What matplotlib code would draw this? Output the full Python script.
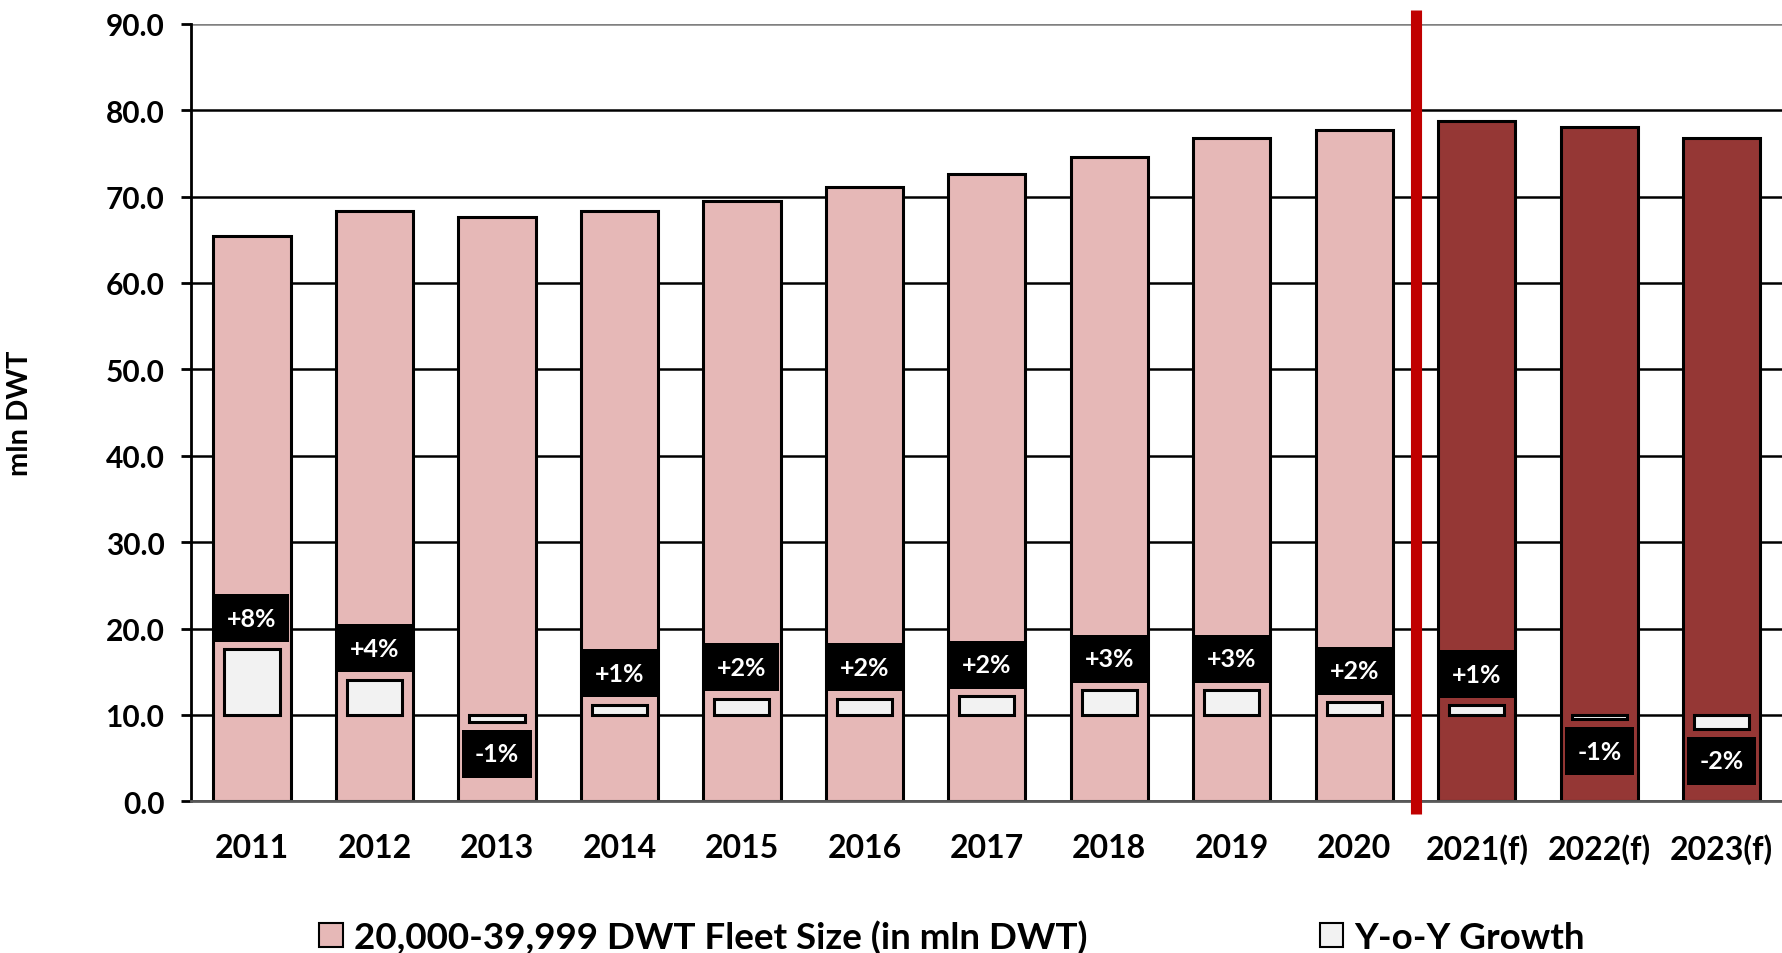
import numpy as np
import matplotlib
matplotlib.use("Agg")
import matplotlib.pyplot as plt
from matplotlib.patches import Patch
import matplotlib.transforms as mtransforms

plt.rcParams['font.family'] = ['Lato', 'DejaVu Sans']
plt.rcParams['font.weight'] = 'bold'

# data
years = ["2011", "2012", "2013", "2014", "2015", "2016", "2017",
         "2018", "2019", "2020", "2021(f)", "2022(f)", "2023(f)"]
fleet = [65.4, 68.3, 67.6, 68.3, 69.5, 71.1, 72.6, 74.6, 76.8, 77.7, 78.8, 78.0, 76.8]
growth = [7.6, 4.1, -0.8, 1.2, 1.9, 1.9, 2.2, 2.9, 2.9, 1.5, 1.1, -0.5, -1.6]
growth_labels = ["+8%", "+4%", "-1%", "+1%", "+2%", "+2%", "+2%",
                 "+3%", "+3%", "+2%", "+1%", "-1%", "-2%"]
n_actual = 10  # 2011-2020 actual, rest forecast

PINK = "#E6B8B7"
DARK = "#953735"
LINE_RED = "#C00000"

fig = plt.figure(figsize=(17.83, 9.54), dpi=100)
ax = fig.add_axes([0.107, 0.159, 0.893, 0.815])

x = np.arange(len(years))
colors = [PINK if i < n_actual else DARK for i in range(len(years))]
ax.bar(x, fleet, width=0.63, color=colors, edgecolor="black", linewidth=2.2, zorder=2)

ax.set_xlim(-0.5, len(years) - 0.5)
ax.set_ylim(0, 90)
ax.set_yticks(np.arange(0, 91, 10))
ax.yaxis.set_major_formatter(matplotlib.ticker.FormatStrFormatter("%.1f"))
ax.set_xticks(x)
ax.set_xticklabels(years)
ax.tick_params(axis="x", length=0, pad=23, labelsize=23)
ax.tick_params(axis="y", length=7, width=2, pad=12, labelsize=21.5)
ax.set_axisbelow(True)
ax.yaxis.grid(True, color="black", linewidth=1.8)
ax.get_ygridlines()[-1].set_color("#808080")
ax.spines["top"].set_visible(False)
ax.spines["right"].set_visible(False)
ax.spines["left"].set_linewidth(2)
ax.spines["bottom"].set_color("#595959")
ax.spines["bottom"].set_linewidth(2)
ax.set_ylabel("mln DWT", fontsize=21, fontweight="bold")
ax.yaxis.set_label_coords(-0.099, 0.5)

# growth on secondary axis, 0 aligned to 10 on primary
ax2 = ax.twinx()
ax2.set_ylim(-10, 80)
ax2.bar(x, growth, width=0.45, color="#F2F2F2", edgecolor="black", linewidth=2.2, zorder=3)
for xi, g, lab in zip(x, growth, growth_labels):
    yy = g + 3.6 if g >= 0 else g - 3.7
    ax2.text(xi, yy, lab, ha="center", va="center", color="white", fontsize=18,
             fontweight="bold", zorder=4,
             bbox=dict(boxstyle="square,pad=0.5", facecolor="black", edgecolor="none"))
ax2.set_yticks([])
for s in ax2.spines.values():
    s.set_visible(False)

# forecast divider
trans = mtransforms.blended_transform_factory(ax.transData, ax.transAxes)
xd = n_actual - 0.5
ax.plot([xd, xd], [-0.016, 1.018], color=LINE_RED, linewidth=8, transform=trans,
        clip_on=False, zorder=5, solid_capstyle="butt")

handles = [Patch(facecolor=PINK, edgecolor="black", linewidth=1.5),
           Patch(facecolor="#F2F2F2", edgecolor="black", linewidth=1.5)]
fig.legend(handles, ["20,000-39,999 DWT Fleet Size (in mln DWT)", "Y-o-Y Growth"],
           loc="center", bbox_to_anchor=(0.534, 0.017), ncol=2, frameon=False,
           prop={"size": 26.5, "weight": "bold"}, handlelength=0.65, handleheight=0.65,
           handletextpad=0.3, columnspacing=6.3)

fig.savefig("out.png", dpi=100)
